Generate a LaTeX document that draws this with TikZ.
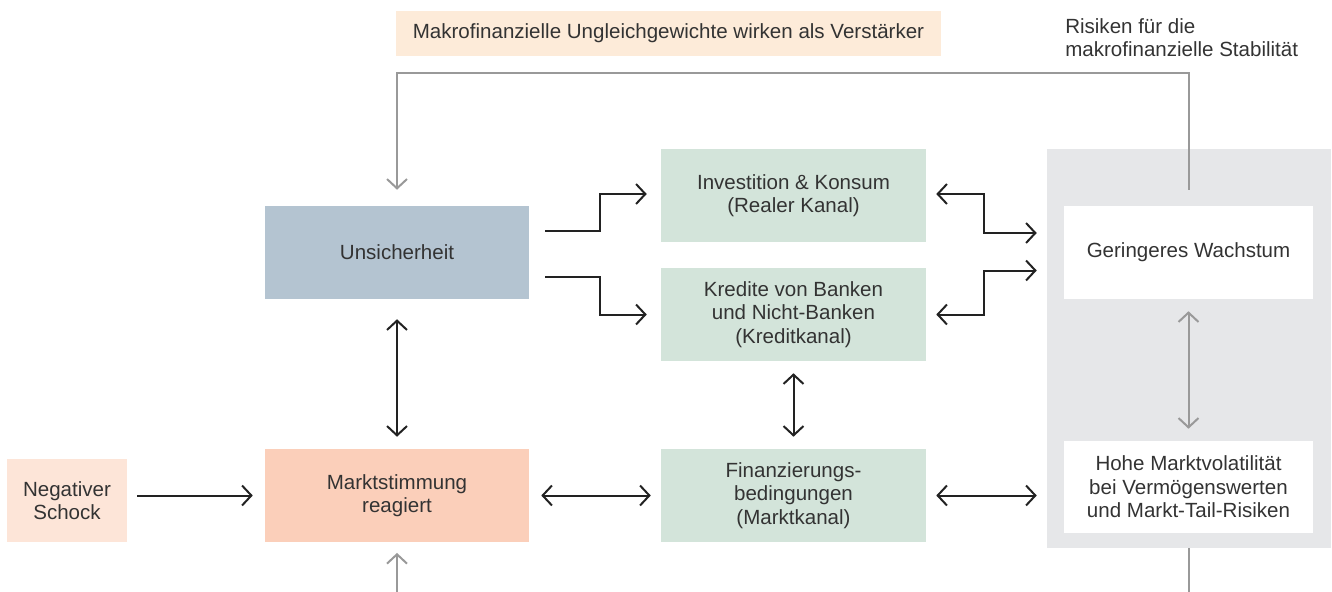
\documentclass[tikz,border=0pt]{standalone}
\usepackage{fontspec}
\setmainfont{Liberation Sans}
\usepackage{tikz}
\newcommand{\boxwidth}{198pt}
\newcommand{\boxheight}{69.75pt}
\definecolor{myPeach}{HTML}{FDEBD9}
\definecolor{myBlue}{HTML}{B4C4D1}
\definecolor{myGreen}{HTML}{D3E4DA}
\definecolor{mySalmon}{HTML}{FBCFBA}
\definecolor{myRose}{HTML}{FDE5D8}
\definecolor{myPanel}{HTML}{E6E7E9}
\definecolor{myText}{HTML}{333333}
\definecolor{myBlack}{HTML}{222222}
\definecolor{myGray}{HTML}{999999}
\usetikzlibrary{arrows.meta,calc,positioning}
\tikzset{
  >={Straight Barb[length=7pt,width=15pt]},
  font=\fontsize{15.4}{17.6}\selectfont,
  rect/.style={shape=rectangle,minimum width=\boxwidth,minimum height=\boxheight,inner sep=1mm,align=center,text=myText},
  line/.style={draw=myBlack,line width=1.5pt},
  gline/.style={draw=myGray,line width=1.5pt},
}
\begin{document}
\begin{tikzpicture}[x=0.75pt,y=-0.75pt]
  \useasboundingbox (0,0) rectangle (1332,592);
  \node (panel) [rect,fill=myPanel,minimum width=213pt,minimum height=299.25pt] at (1189,348.5) {};
  \node (label) [rect,fill=myPeach,minimum width=408.75pt,minimum height=33.75pt] at (668.5,33.5) {Makrofinanzielle Ungleichgewichte wirken als Verstärker};
  \node (risk) [anchor=north west,align=left,inner sep=0,text=myText] at (1065,18) {Risiken für die\\makrofinanzielle Stabilität};
  \node (unsich) [rect,fill=myBlue] at (397,252.5) {Unsicherheit};
  \node (markt) [rect,fill=mySalmon] at (397,495.5) {Marktstimmung\\reagiert};
  \node (schock) [rect,fill=myRose,minimum width=90pt,minimum height=62.25pt] at (67,500.5) {Negativer\\Schock};
  \node (invest) [rect,fill=myGreen,minimum width=198.75pt] at (793.5,195.5) {Investition \& Konsum\\(Realer Kanal)};
  \node (kredit) [rect,fill=myGreen,minimum width=198.75pt] at (793.5,314.5) {Kredite von Banken\\und Nicht-Banken\\(Kreditkanal)};
  \node (finanz) [rect,fill=myGreen,minimum width=198.75pt] at (793.5,495.5) {Finanzierungs-\\bedingungen\\(Marktkanal)};
  \node (wachstum) [rect,fill=white,minimum width=186.75pt] at (1188.5,252.5) {Geringeres Wachstum};
  \node (hohe) [rect,fill=white,minimum width=186.75pt,minimum height=69pt] at (1188.5,487) {Hohe Marktvolatilität\\bei Vermögenswerten\\und Markt-Tail-Risiken};
  \coordinate (exit) at (1188.5,592);
  \coordinate (entry) at (397,592);
  \path [line,->,shorten <=7.5pt,shorten >=9pt] (schock.east |- markt) -- (markt.west);
  \path [line,->,shorten >=10.5pt] ($(unsich.east)+(16,-21.5)$) -- ++(55,0) |- ($(invest.west)+(0,-1.5)$);
  \path [line,->,shorten >=10.5pt] ($(unsich.east)+(16,24.5)$) -- ++(55,0) |- (kredit.west);
  \path [line,<->,shorten <=7.5pt,shorten >=7.5pt] ($(invest.east)+(0,-1.5)$) -- ++(58,0) |- ($(panel.west |- wachstum.west)+(0,-19.5)$);
  \path [line,<->,shorten <=7.5pt,shorten >=7.5pt] (kredit.east) -- ++(58,0) |- ($(panel.west |- wachstum.west)+(0,18)$);
  \path [line,<->,shorten <=15pt,shorten >=9pt] (unsich) -- (markt);
  \path [line,<->,shorten <=9pt,shorten >=9pt] (kredit) -- (finanz);
  \path [line,<->,shorten <=9pt,shorten >=7.5pt] (markt) -- (finanz);
  \path [line,<->,shorten <=7.5pt,shorten >=7.5pt] (finanz.east) -- (finanz.east -| panel.west);
  \path [gline,<->,shorten <=9pt,shorten >=9pt] (wachstum) -- (hohe);
  \path [gline,->] ($(wachstum.north)+(0,-16)$) -- ++(0,-117) -| ($(unsich.north)+(0,-16)$);
  \path [gline] (panel.south -| hohe) -- (exit);
  \path [gline,->,shorten >=8pt] (entry) -- (markt);
\end{tikzpicture}
\end{document}
